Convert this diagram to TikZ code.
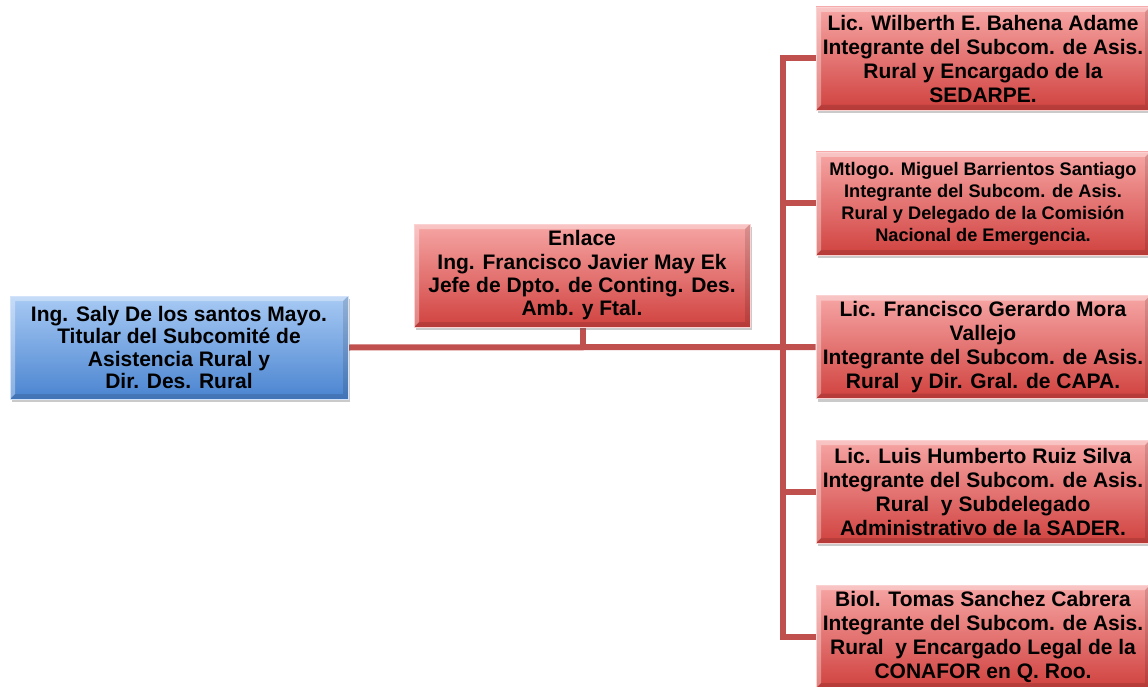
\documentclass[tikz,border=0pt]{standalone}
\usepackage{fontspec}
\setmainfont{Liberation Sans}
\usetikzlibrary{shadows,backgrounds}
\definecolor{redtop}{HTML}{F6A6A5}
\definecolor{redmid}{HTML}{E87572}
\definecolor{redbot}{HTML}{D0423F}
\definecolor{bluetop}{HTML}{A8CAF4}
\definecolor{bluemid}{HTML}{78A8E6}
\definecolor{bluebot}{HTML}{4A84D0}
\definecolor{linecol}{HTML}{C0504D}
\tikzset{
  bevel/.style={path picture={
    \coordinate (bl) at (path picture bounding box.south west);
    \coordinate (tr) at (path picture bounding box.north east);
    \fill[white,opacity=0.35] (bl) -- ([xshift=5pt,yshift=5pt]bl) -- ([xshift=5pt,yshift=-5pt]bl |- tr) -- ([xshift=-5pt,yshift=-5pt]tr) -- (tr) -- (bl |- tr) -- cycle;
    \fill[black,opacity=0.12] (bl) -- ([xshift=5pt,yshift=5pt]bl) -- ([xshift=-5pt,yshift=5pt]tr |- bl) -- ([xshift=-5pt,yshift=-5pt]tr) -- (tr) -- (tr |- bl) -- cycle;
  }},
  box/.style={rectangle, inner sep=0pt, align=center, minimum height=103pt, bevel,
    drop shadow={shadow xshift=2pt, shadow yshift=-3pt, opacity=0.35, fill=black!60}},
  redbox/.style={box, top color=redtop, middle color=redmid, bottom color=redbot,
    draw=redtop!50!white, line width=0.6pt},
  bluebox/.style={box, top color=bluetop, middle color=bluemid, bottom color=bluebot,
    draw=bluetop!50!white, line width=0.6pt},
  bigtext/.style={font=\bfseries\fontsize{21}{24}\selectfont},
  conn/.style={draw=linecol, line width=6pt}
}
\begin{document}
\begin{tikzpicture}[x=1pt,y=-1pt]
\useasboundingbox (0,0) rectangle (1148,687);
\clip (0,0) rectangle (1148,687);

\node[bluebox, minimum width=338pt, font=\bfseries\fontsize{21}{22.2}\selectfont] (tit) at (179,347.5)
  {Ing. Saly De los santos Mayo.\\Titular del Subcomité de\\Asistencia Rural y\\Dir. Des. Rural};

\node[redbox, minimum width=336pt, font=\bfseries\fontsize{21}{23.3}\selectfont] (enl) at (582,275.5)
  {Enlace\\Ing. Francisco Javier May Ek\\Jefe de Dpto. de Conting. Des.\\Amb. y Ftal.};

\node[redbox, minimum width=334pt, bigtext] (r1) at (983,58.5)
  {Lic. Wilberth E. Bahena Adame\\Integrante del Subcom. de Asis.\\Rural y Encargado de la\\SEDARPE.};

\node[redbox, minimum width=334pt, font=\bfseries\fontsize{18.2}{22}\selectfont] (r2) at (983,203.5)
  {Mtlogo. Miguel Barrientos Santiago\\Integrante del Subcom. de Asis.\\Rural y Delegado de la Comisión\\Nacional de Emergencia.};

\node[redbox, minimum width=334pt, bigtext] (r3) at (983,347)
  {Lic. Francisco Gerardo Mora\\Vallejo\\Integrante del Subcom. de Asis.\\Rural \ y Dir. Gral. de CAPA.};

\node[redbox, minimum width=334pt, bigtext] (r4) at (983,491.5)
  {Lic. Luis Humberto Ruiz Silva\\Integrante del Subcom. de Asis.\\Rural \ y Subdelegado\\Administrativo de la SADER.};

\node[redbox, minimum width=334pt, bigtext] (r5) at (983,636.5)
  {Biol. Tomas Sanchez Cabrera\\Integrante del Subcom. de Asis.\\Rural \ y Encargado Legal de la\\CONAFOR en Q. Roo.};

\coordinate (bus) at (783,347);
\coordinate (join) at (583,347);

\begin{scope}[on background layer]
  \draw[conn] (tit.east) -- (r3.west);
  \draw[conn] (enl.south -| join) -- (join);
  \draw[conn, line cap=rect] (r1.west -| bus) -- (r5.west -| bus);
  \draw[conn] (r1.west -| bus) -- (r1.west);
  \draw[conn] (r2.west -| bus) -- (r2.west);
  \draw[conn] (r4.west -| bus) -- (r4.west);
  \draw[conn] (r5.west -| bus) -- (r5.west);
\end{scope}
\end{tikzpicture}
\end{document}
